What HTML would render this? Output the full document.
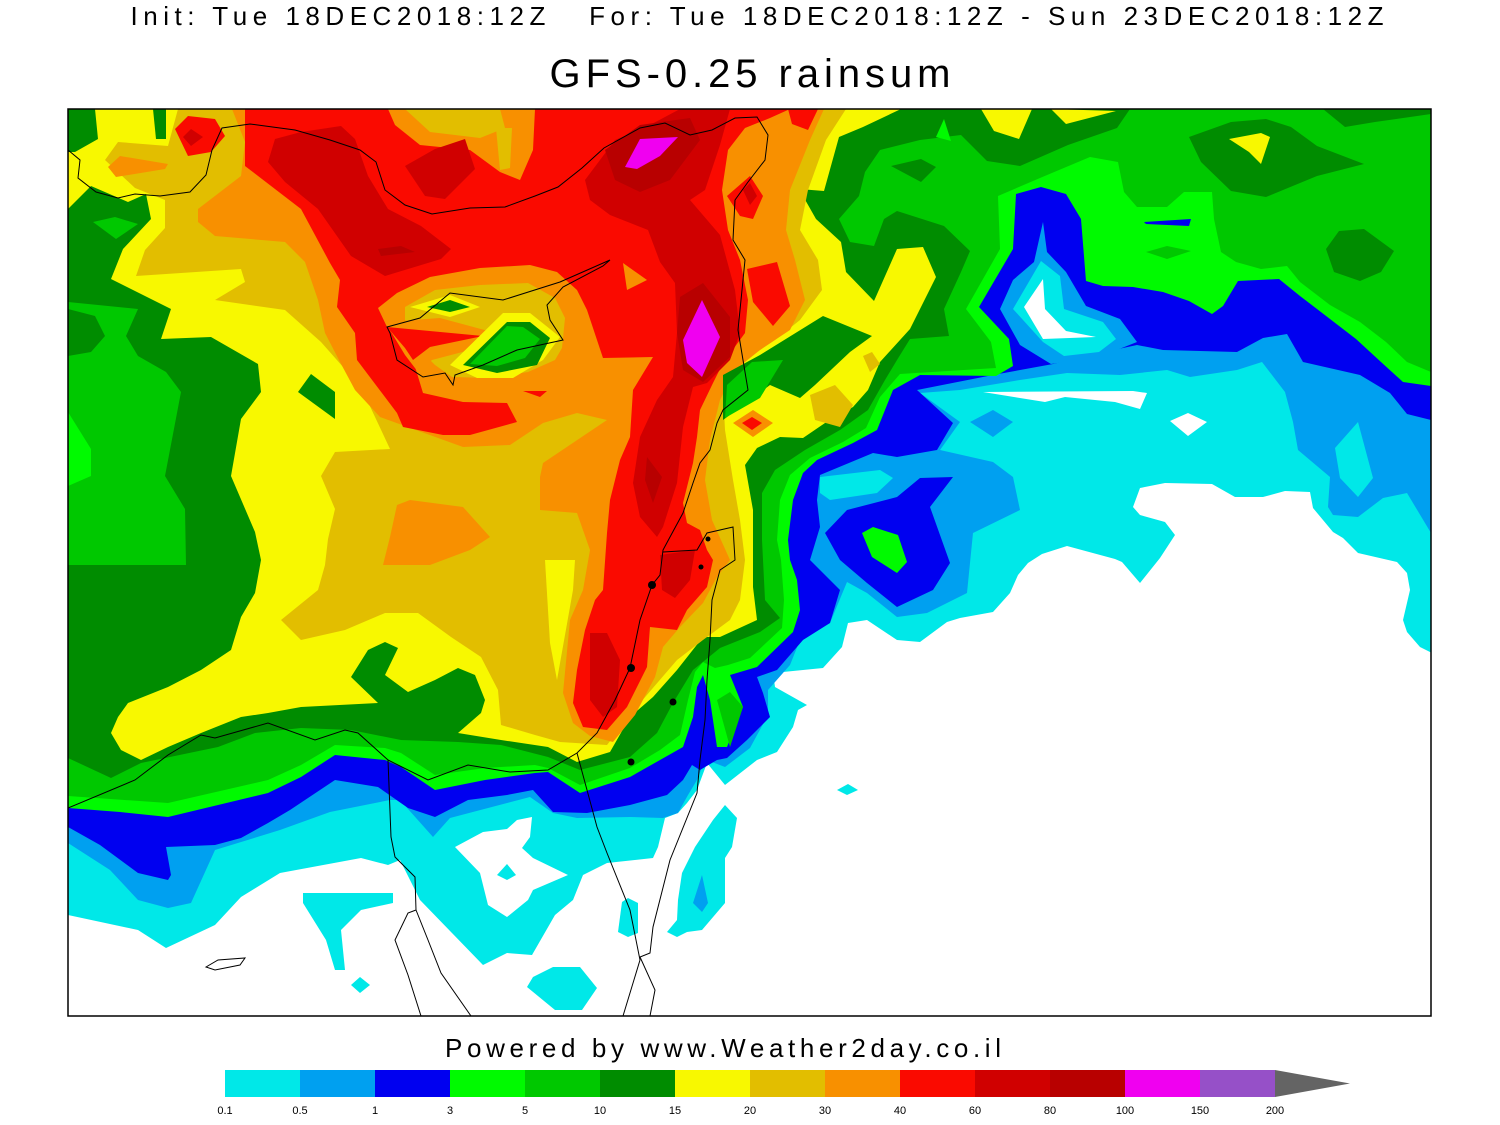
<!DOCTYPE html>
<html>
<head>
<meta charset="utf-8">
<style>
html,body{margin:0;padding:0;background:#fff;}
svg{display:block;}
text{font-family:"Liberation Sans",sans-serif;fill:#000;}
</style>
</head>
<body>
<svg width="1500" height="1125" viewBox="0 0 1500 1125" xmlns="http://www.w3.org/2000/svg">
<defs>
<clipPath id="m"><rect x="68" y="109" width="1363" height="907"/></clipPath>
</defs>
<rect x="0" y="0" width="1500" height="1125" fill="#fff"/>

<text x="757" y="25" font-size="26" text-anchor="middle" textLength="1253" lengthAdjust="spacing" style="white-space:pre">Init: Tue 18DEC2018:12Z   For: Tue 18DEC2018:12Z - Sun 23DEC2018:12Z</text>
<text x="750" y="87" font-size="40" text-anchor="middle" textLength="401" lengthAdjust="spacing">GFS-0.25 rainsum</text>

<g clip-path="url(#m)">
<rect x="68" y="109" width="1363" height="907" fill="#00e8e8"/>
<polygon fill="#fff" points="68,915 138,930 166,948 215,925 241,897 280,873 361,858 388,865 400,860 420,900 483,965 507,953 532,955 555,915 573,900 583,875 607,863 653,858 658,847 665,818 678,813 687,803 697,790 707,763 725,785 757,760 777,752 793,727 798,710 807,705 775,687 773,673 823,668 842,647 848,623 867,620 897,640 920,642 947,622 960,618 993,612 1010,593 1018,575 1028,563 1042,554 1067,546 1115,559 1122,562 1140,583 1160,558 1175,535 1165,522 1140,515 1133,507 1140,488 1165,483 1212,484 1235,497 1263,497 1285,491 1310,492 1313,508 1333,532 1343,538 1358,553 1397,562 1407,573 1410,590 1403,620 1407,632 1420,647 1432,653 1432,1017 68,1017"/>
<polygon fill="#fff" points="983,392 1045,402 1065,397 1115,402 1140,409 1147,393 1133,391"/>
<polygon fill="#fff" points="1170,421 1188,413 1207,422 1188,436"/>
<polygon fill="#00e8e8" points="303,893 393,893 393,903 361,910 341,930 345,970 335,970 326,940 303,903"/>
<polygon fill="#00e8e8" points="351,985 360,977 370,985 360,993"/>
<polygon fill="#00e8e8" points="527,987 533,977 553,967 580,967 597,988 582,1010 555,1010"/>
<polygon fill="#00e8e8" points="622,902 628,898 638,903 638,933 628,937 618,932"/>
<polygon fill="#00e8e8" points="725,805 737,818 732,847 725,858 725,903 702,930 687,932 677,937 667,932 677,920 678,900 682,873 695,847 713,820"/>
<polygon fill="#00e8e8" points="837,790 848,784 858,790 847,795"/>
<polygon fill="#fff" points="455,847 483,832 507,829 517,820 532,817 530,837 522,848 533,858 568,875 533,890 528,900 507,917 488,905 480,873"/>
<polygon fill="#00e8e8" points="497,875 507,864 516,875 507,880"/>
<polygon fill="#00a0f0" points="702,875 708,903 702,912 693,903"/>

<polygon fill="#00a0f0" points="68,109 68,843 110,870 138,900 168,908 191,903 215,850 280,830 330,812 390,800 400,800 433,837 450,818 530,797 553,813 577,818 630,817 663,818 678,813 688,795 697,780 703,765 712,762 725,767 750,748 768,715 768,690 790,665 800,640 830,623 847,582 867,593 897,617 927,613 967,593 973,533 1020,510 1013,477 993,462 940,450 960,422 920,393 960,390 1020,380 1067,373 1120,375 1167,370 1190,377 1237,370 1262,362 1285,392 1293,422 1298,450 1330,477 1328,507 1333,515 1358,517 1383,498 1407,493 1431,533 1431,109"/>
<polygon fill="#00a0f0" points="970,422 993,410 1013,422 993,437"/>
<polygon fill="#00e8e8" points="820,477 880,470 893,478 877,493 830,500 820,493"/>
<polygon fill="#00e8e8" points="1335,448 1358,422 1373,478 1358,497 1340,478"/>

<polygon fill="#0000f0" points="68,109 68,827 100,845 138,873 168,880 171,875 166,847 215,845 241,838 268,823 290,810 335,780 378,787 408,808 435,817 468,800 507,795 533,790 553,812 587,813 630,805 667,795 683,780 692,765 700,770 717,760 727,758 747,740 770,717 763,693 757,677 777,670 803,640 830,623 840,590 810,560 820,527 817,500 820,475 873,453 897,457 937,450 953,423 917,390 993,375 1053,364 1090,355 1137,345 1163,350 1237,352 1263,338 1287,334 1303,362 1360,375 1390,393 1407,414 1431,420 1431,109"/>
<polygon fill="#0000f0" points="825,533 847,510 897,497 920,478 953,477 930,507 950,563 933,590 897,607 867,583 840,560"/>

<polygon fill="#00fa00" points="68,109 68,808 120,812 168,817 268,793 301,777 335,755 385,760 401,767 435,790 485,780 535,773 548,772 580,793 630,777 660,760 683,747 693,717 697,687 703,675 710,700 717,747 727,747 743,707 730,675 757,667 793,632 800,610 797,580 790,560 788,540 793,500 803,473 817,460 853,443 877,430 893,390 920,375 996,376 1013,366 1009,339 979,307 1013,249 1016,194 1041,187 1066,194 1081,219 1086,281 1103,286 1133,287 1163,292 1189,301 1212,314 1223,306 1238,281 1279,279 1300,296 1317,309 1356,339 1381,362 1403,382 1431,386 1431,109"/>
<polygon fill="#00fa00" points="862,533 873,527 898,535 907,562 897,573 872,557"/>

<polygon fill="#00a0f0" points="1000,309 1013,280 1034,262 1043,222 1047,252 1066,272 1086,306 1120,319 1137,342 1099,357 1051,364 1020,345"/>
<polygon fill="#00e8e8" points="1013,309 1041,261 1060,276 1064,309 1103,322 1116,339 1099,352 1064,356 1043,342"/>
<polygon fill="#fff" points="1024,307 1043,279 1045,309 1066,331 1096,337 1043,339"/>
<polygon fill="#0000f0" points="1144,222 1191,219 1189,226 1146,224"/>

<polygon fill="#00c800" points="68,109 68,796 168,803 268,780 301,765 335,745 385,748 401,753 435,775 485,768 535,765 548,768 580,785 630,768 660,750 680,735 688,700 695,672 703,662 715,668 728,665 750,658 782,628 784,600 781,560 777,540 780,500 790,475 810,458 843,442 866,428 880,397 900,374 996,368 991,342 966,309 1000,249 998,196 1040,178 1090,157 1118,162 1124,192 1137,207 1167,207 1184,192 1212,192 1214,219 1221,252 1236,262 1261,269 1287,266 1300,282 1330,305 1360,322 1386,342 1407,362 1431,372 1431,109"/>
<polygon fill="#00c800" points="717,700 730,692 743,707 730,747"/>
<polygon fill="#00c800" points="1146,252 1167,246 1191,251 1167,259"/>

<polygon fill="#008c00" points="68,109 68,758 111,778 141,763 218,747 255,733 301,728 351,730 401,740 458,742 501,745 548,757 580,770 630,757 657,733 673,703 693,670 720,648 760,632 780,618 765,600 762,540 762,493 775,470 805,450 840,430 868,410 885,380 897,360 910,339 949,336 944,309 961,272 970,251 944,226 897,211 884,219 874,246 850,242 839,219 859,196 865,172 880,150 920,140 961,135 987,161 1020,166 1068,145 1117,128 1130,109"/>
<polygon fill="#008c00" points="1189,137 1231,122 1266,119 1291,127 1317,146 1364,164 1317,176 1266,197 1231,191 1201,162"/>
<polygon fill="#008c00" points="1326,249 1339,231 1364,229 1394,251 1381,272 1360,281 1334,272"/>
<polygon fill="#008c00" points="1323,109 1345,127 1375,122 1431,114 1431,109"/>
<polygon fill="#008c00" points="891,166 921,159 936,167 921,182"/>
<polygon fill="#f8f800" points="1229,139 1261,133 1270,137 1261,164 1249,152"/>
<polygon fill="#f8f800" points="981,109 994,131 1019,139 1032,109"/>
<polygon fill="#f8f800" points="1051,109 1066,124 1116,111"/>
<polygon fill="#00fa00" points="944,119 936,137 951,141"/>
<polygon fill="#00c800" points="68,302 138,309 126,336 138,356 166,372 181,392 165,476 185,509 186,565 68,565"/>
<polygon fill="#008c00" points="68,309 95,316 105,336 91,352 68,356"/>
<polygon fill="#00fa00" points="68,412 91,449 91,476 68,486"/>
<polygon fill="#00c800" points="93,222 115,217 138,224 116,239"/>

<polygon fill="#f8f800" points="95,109 901,109 863,127 839,137 824,191 799,189 816,219 841,242 846,272 874,301 897,249 923,247 936,277 910,329 880,362 868,390 853,407 825,423 803,438 780,437 757,448 745,465 753,510 753,587 757,620 720,637 703,637 677,670 653,697 630,717 610,752 577,762 548,747 501,740 458,733 481,713 485,700 475,675 458,668 435,680 408,692 385,675 398,648 385,642 368,650 351,677 378,703 301,707 268,713 241,717 201,733 168,747 141,760 121,750 111,733 118,717 128,703 168,687 201,670 231,650 241,617 255,593 261,560 255,532 231,476 241,419 261,392 258,364 211,337 161,339 171,309 111,279 123,249 151,219 146,194 128,202 91,186 78,199 68,209 68,152 75,152 98,139"/>
<polygon fill="#008c00" points="298,392 311,374 335,392 335,419"/>
<polygon fill="#008c00" points="153,109 166,109 166,139 156,139"/>

<polygon fill="#e2be00" points="178,109 846,109 826,140 808,190 800,230 818,260 822,290 800,320 775,340 745,360 723,390 725,430 733,480 740,520 745,560 740,600 730,620 703,640 677,660 640,703 607,745 560,742 535,735 501,725 498,690 481,657 451,637 418,613 385,613 345,630 301,640 281,620 318,590 325,565 328,539 335,509 321,476 335,452 390,449 368,402 351,376 321,342 285,310 215,300 245,282 241,269 136,276 145,250 165,228 165,200 135,188 105,160 118,142 168,146"/>
<polygon fill="#f8f800" points="545,560 575,560 573,590 557,680 550,643"/>
<polygon fill="#f89000" points="108,167 120,156 168,164 165,169 116,177"/>
<polygon fill="#f89000" points="397,505 410,500 463,507 490,537 470,550 430,565 383,565 390,537"/>

<polygon fill="#f89000" points="232,109 824,109 810,140 790,190 786,230 795,260 805,300 790,330 760,350 735,370 720,400 710,440 705,480 712,520 730,560 717,577 703,603 680,627 663,647 655,677 635,715 613,742 590,736 573,723 563,693 570,620 583,590 590,550 577,513 540,510 540,477 543,463 607,420 577,413 543,423 510,445 463,447 380,417 355,390 340,362 325,333 318,300 305,262 285,242 215,236 198,222 198,209 241,176 245,142"/>

<polygon fill="#fa0a00" points="245,109 790,109 770,118 745,128 728,150 722,190 728,230 740,260 748,300 745,333 723,363 713,383 700,410 697,437 693,463 683,503 687,523 700,530 707,550 713,560 707,587 687,610 677,630 650,627 647,667 627,707 607,730 583,727 573,703 577,670 585,630 595,600 603,590 607,533 610,500 620,460 630,437 633,390 653,357 603,358 587,310 577,290 557,272 530,265 480,268 430,277 397,293 378,308 387,327 413,360 423,393 463,402 507,403 517,422 470,435 443,435 403,427 397,413 357,360 355,333 337,307 340,280 330,263 301,209 245,166"/>
<polygon fill="#fa0a00" points="788,109 818,109 808,130 792,124"/>
<polygon fill="#f89000" points="623,263 647,280 627,290"/>
<polygon fill="#e2be00" points="405,307 435,290 480,285 528,283 555,298 565,318 562,348 555,360 528,372 490,378 452,377 435,365 418,348 405,333"/>
<polygon fill="#f89000" points="385,322 440,318 492,332 470,350 432,360 418,372 405,355"/>
<polygon fill="#fa0a00" points="387,327 483,336 430,347 413,360 405,348"/>
<polygon fill="#f8f800" points="410,307 450,295 480,307 450,317"/>
<polygon fill="#008c00" points="427,307 450,300 470,307 450,312"/>
<polygon fill="#f8f800" points="450,365 503,313 530,313 560,337 543,360 513,378 477,378"/>
<polygon fill="#008c00" points="463,365 507,322 530,322 550,338 537,365 497,373"/>
<polygon fill="#00c800" points="470,364 507,326 523,327 540,339 525,358 497,366"/>
<polygon fill="#fa0a00" points="523,391 547,391 540,397"/>
<polygon fill="#f89000" points="388,109 535,109 533,150 520,180 500,172 470,150 420,145 395,125"/>
<polygon fill="#e2be00" points="405,109 500,109 505,128 480,138 430,132"/>
<polygon fill="#e2be00" points="496,128 512,128 510,168 500,170"/>
<polygon fill="#fa0a00" points="175,129 188,116 215,119 225,136 211,152 188,156"/>
<polygon fill="#d00000" points="183,137 191,129 203,137 191,146"/>
<polygon fill="#fa0a00" points="727,196 750,176 763,196 753,219 740,216"/>
<polygon fill="#fa0a00" points="747,269 777,262 790,306 773,326 753,302"/>
<polygon fill="#d00000" points="743,190 750,183 757,196 750,205"/>

<polygon fill="#d00000" points="268,162 275,139 301,132 341,126 355,139 368,176 388,209 421,226 451,249 441,259 385,276 351,256 318,209 285,182"/>
<polygon fill="#d00000" points="405,166 435,149 465,139 475,169 445,199 425,196"/>
<polygon fill="#d00000" points="585,180 615,140 650,125 680,109 730,109 720,145 705,190 690,200 720,235 735,290 740,333 730,360 707,383 693,387 683,427 677,483 663,527 657,537 640,517 633,483 640,437 657,400 673,377 677,333 675,283 660,262 648,230 610,215 590,200"/>
<polygon fill="#d00000" points="590,633 607,633 620,660 617,707 603,717 590,700"/>
<polygon fill="#d00000" points="660,555 695,550 690,580 675,598 662,590"/>
<polygon fill="#b80000" points="378,249 401,246 415,252 381,256"/>
<polygon fill="#b80000" points="605,150 640,125 690,118 700,140 670,180 640,192 615,180"/>
<polygon fill="#b80000" points="680,297 703,283 730,317 730,357 703,382 683,370 677,333"/>
<polygon fill="#b80000" points="647,457 662,477 653,503 645,480"/>
<polygon fill="#f000f0" points="625,167 640,139 678,137 660,156 637,169"/>
<polygon fill="#f000f0" points="683,340 702,300 720,337 702,377 687,363"/>

<polygon fill="#008c00" points="723,420 723,375 760,355 823,316 872,336 850,352 815,385 800,398 770,385 750,400"/>
<polygon fill="#00c800" points="725,418 727,385 752,362 783,360 760,398"/>
<polygon fill="#e2be00" points="810,395 835,385 853,405 840,427 815,420"/>
<polygon fill="#e2be00" points="863,356 872,352 880,364 870,372"/>
<polygon fill="#f89000" points="733,423 753,410 773,423 753,437"/>
<polygon fill="#fa0a00" points="742,423 752,417 762,423 752,430"/>

<g fill="none" stroke="#000" stroke-width="1">
<polyline points="68,150 80,160 78,178 96,192 118,198 135,194 160,196 190,192 206,175 212,150 222,128 250,124 295,130 330,140 360,150 376,162 385,190 405,205 432,214 470,208 505,207 535,196 558,187 582,168 604,148 640,128 665,123 690,135 712,130 735,118 757,117 768,135 765,160 748,182 735,200 733,240 745,260 742,290 738,330 743,360 748,390 723,410 717,423 710,450 700,463 693,483 683,513 670,537 663,550 660,575 652,585 640,620 630,668 615,700 597,733 577,753 548,770 510,772 468,765 428,780 388,760 358,733 345,730 315,740 268,723 215,738 201,735 168,755 135,780 68,808"/>
<polyline points="388,760 391,837 395,857 415,877 416,910 408,913 395,940 408,975 421,1016"/>
<polyline points="416,910 428,940 441,973 471,1016"/>
<polyline points="577,753 597,827 607,853 630,910 640,960 623,1016"/>
<polyline points="650,1016 655,990 640,957 650,953 653,927 670,860 697,793 700,760 705,720 707,680 710,640 712,600 720,570 735,560 733,527 707,533 697,550 663,552"/>
<polygon points="387,327 420,318 450,293 503,300 560,282 610,260 603,266 563,287 547,305 550,320 563,340 517,350 483,365 455,375 453,385 445,373 423,377 397,360 390,333"/>
<polygon points="206,967 218,960 245,958 240,965 215,970"/>
</g>
<circle cx="652" cy="585" r="4" fill="#000"/>
<circle cx="701" cy="567" r="2.5" fill="#000"/>
<circle cx="708" cy="539" r="2.5" fill="#000"/>
<circle cx="631" cy="668" r="4" fill="#000"/>
<circle cx="673" cy="702" r="3.5" fill="#000"/>
<circle cx="631" cy="762" r="3.5" fill="#000"/>
</g>
<rect x="68" y="109" width="1363" height="907" fill="none" stroke="#000" stroke-width="1.5"/>

<text x="723" y="1057" font-size="26" text-anchor="middle" textLength="556" lengthAdjust="spacing">Powered by www.Weather2day.co.il</text>

<rect x="225" y="1070" width="75" height="27" fill="#00e8e8"/>
<rect x="300" y="1070" width="75" height="27" fill="#00a0f0"/>
<rect x="375" y="1070" width="75" height="27" fill="#0000f0"/>
<rect x="450" y="1070" width="75" height="27" fill="#00fa00"/>
<rect x="525" y="1070" width="75" height="27" fill="#00c800"/>
<rect x="600" y="1070" width="75" height="27" fill="#008c00"/>
<rect x="675" y="1070" width="75" height="27" fill="#f8f800"/>
<rect x="750" y="1070" width="75" height="27" fill="#e2be00"/>
<rect x="825" y="1070" width="75" height="27" fill="#f89000"/>
<rect x="900" y="1070" width="75" height="27" fill="#fa0a00"/>
<rect x="975" y="1070" width="75" height="27" fill="#d00000"/>
<rect x="1050" y="1070" width="75" height="27" fill="#b80000"/>
<rect x="1125" y="1070" width="75" height="27" fill="#f000f0"/>
<rect x="1200" y="1070" width="75" height="27" fill="#9650c8"/>
<polygon points="1275,1070 1350,1083.5 1275,1097" fill="#646464"/>
<g font-size="11" text-anchor="middle">
<text x="225" y="1114">0.1</text>
<text x="300" y="1114">0.5</text>
<text x="375" y="1114">1</text>
<text x="450" y="1114">3</text>
<text x="525" y="1114">5</text>
<text x="600" y="1114">10</text>
<text x="675" y="1114">15</text>
<text x="750" y="1114">20</text>
<text x="825" y="1114">30</text>
<text x="900" y="1114">40</text>
<text x="975" y="1114">60</text>
<text x="1050" y="1114">80</text>
<text x="1125" y="1114">100</text>
<text x="1200" y="1114">150</text>
<text x="1275" y="1114">200</text>
</g>
</svg>
</body>
</html>
